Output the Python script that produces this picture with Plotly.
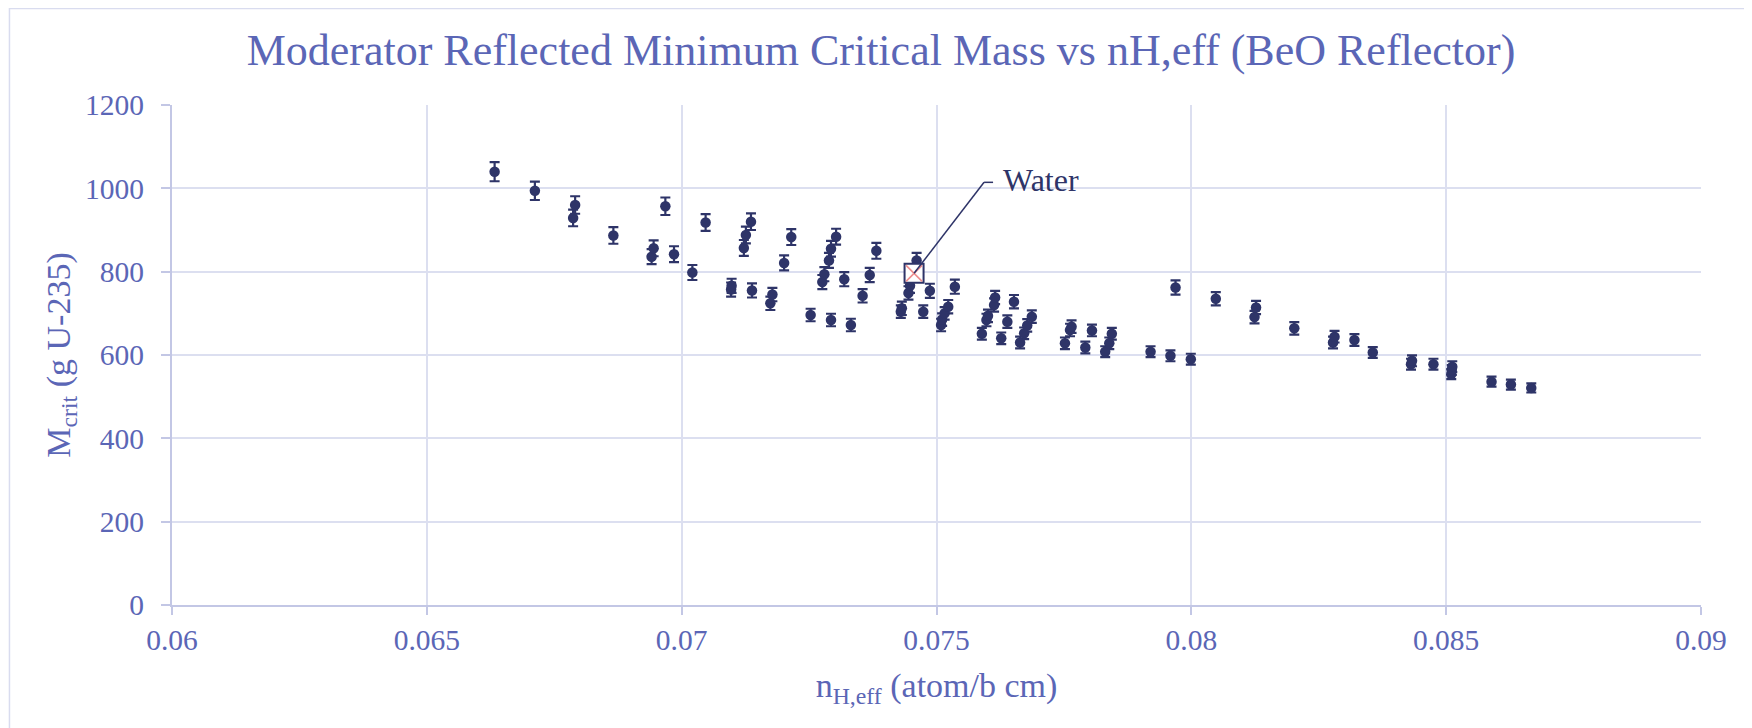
import plotly.graph_objects as go

# ---------------- data ----------------
n_h = [0.06633, 0.06712, 0.06791, 0.06787, 0.06866, 0.06941, 0.06945, 0.06968, 0.06985, 0.07021,
       0.07047, 0.07097, 0.07098, 0.07122, 0.07126, 0.07136, 0.07138, 0.07174, 0.07178, 0.07201,
       0.07215, 0.07253, 0.07276, 0.07280, 0.07289, 0.07293, 0.07293, 0.07303, 0.07319, 0.07332,
       0.07355, 0.07369, 0.07382, 0.07430, 0.07432, 0.07445, 0.07448, 0.07461, 0.07474, 0.07487,
       0.07509, 0.07511, 0.07516, 0.07523, 0.07536, 0.07589, 0.07598, 0.07601, 0.07613, 0.07615,
       0.07627, 0.07639, 0.07652, 0.07664, 0.07672, 0.07678, 0.07687, 0.07752, 0.07762, 0.07765,
       0.07792, 0.07805, 0.07831, 0.07839, 0.07844, 0.07920, 0.07959, 0.07969, 0.07999, 0.08048,
       0.08124, 0.08127, 0.08202, 0.08278, 0.08281, 0.08320, 0.08356, 0.08431, 0.08433, 0.08475,
       0.08510, 0.08511, 0.08512, 0.08589, 0.08627, 0.08667]
m_crit = [1040, 994, 960, 929, 887, 836, 856, 957, 842, 798,
          918, 757, 766, 857, 888, 920, 755, 724, 745, 821,
          883, 696, 775, 794, 827, 684, 855, 884, 782, 672,
          742, 792, 850, 704, 712, 749, 766, 827, 704, 754,
          672, 685, 700, 716, 764, 651, 684, 694, 720, 738,
          640, 680, 728, 630, 652, 671, 692, 628, 660, 668,
          618, 659, 608, 628, 651, 608, 598, 762, 590, 735,
          691, 714, 664, 630, 644, 636, 606, 578, 586, 578,
          554, 564, 572, 536, 529, 521]
m_err = [23, 22, 21, 20, 20, 18, 19, 21, 19, 18,
         20, 17, 17, 19, 20, 20, 17, 16, 16, 18,
         19, 15, 17, 17, 18, 15, 19, 19, 17, 15,
         16, 17, 19, 15, 16, 16, 17, 18, 15, 17,
         15, 15, 15, 16, 17, 14, 15, 15, 16, 16,
         14, 15, 16, 14, 14, 15, 15, 14, 15, 15,
         14, 14, 13, 14, 14, 13, 13, 17, 13, 16,
         15, 16, 15, 14, 14, 14, 13, 13, 13, 13,
         12, 12, 13, 12, 12, 11]

water_x = [0.07456]
water_y = [796]
water_label = "Water"

x_tickvals = [0.06, 0.065, 0.07, 0.075, 0.08, 0.085, 0.09]
x_ticktext = ["0.06", "0.065", "0.07", "0.075", "0.08", "0.085", "0.09"]
y_tickvals = [0, 200, 400, 600, 800, 1000, 1200]
y_ticktext = ["0", "200", "400", "600", "800", "1000", "1200"]

title_text = "Moderator Reflected Minimum Critical Mass vs nH,eff (BeO Reflector)"
x_title = "n<sub>H,eff</sub> (atom/b cm)"
y_title = "M<sub>crit</sub> (g U-235)"

# ---------------- style ----------------
FONT = "Liberation Serif"
TXT = "#5B66B6"
NAVY = "#2E3468"
GRID = "#DCDFF0"
AXIS = "#C3C7E5"
PINK = "#EE8E8E"

fig = go.Figure()
fig.add_trace(go.Scatter(
    x=n_h, y=m_crit, mode="markers",
    marker=dict(symbol="circle", size=10.5, color=NAVY),
    error_y=dict(type="data", array=m_err, visible=True, color=NAVY,
                 thickness=2.2, width=5),
    showlegend=False, hoverinfo="x+y"))

fig.add_trace(go.Scatter(
    x=water_x, y=water_y, mode="markers",
    marker=dict(symbol="square", size=19, color="white",
                line=dict(color=NAVY, width=2)),
    showlegend=False))
fig.add_trace(go.Scatter(
    x=water_x, y=water_y, mode="markers",
    marker=dict(symbol="x-thin-open", size=16, color=PINK,
                line=dict(color=PINK, width=1.6)),
    showlegend=False))

# leader line for the "Water" label (pixel offsets anchored at the data point)
fig.add_shape(type="line", xref="x", yref="y",
              xsizemode="pixel", ysizemode="pixel",
              xanchor=water_x[0], yanchor=water_y[0],
              x0=0, y0=0, x1=70, y1=91,
              line=dict(color=NAVY, width=1.5), layer="above")
fig.add_shape(type="line", xref="x", yref="y",
              xsizemode="pixel", ysizemode="pixel",
              xanchor=water_x[0], yanchor=water_y[0],
              x0=70, y0=91, x1=79, y1=91,
              line=dict(color=NAVY, width=1.5), layer="above")
fig.add_annotation(x=water_x[0], y=water_y[0], xref="x", yref="y",
                   text=water_label, showarrow=False,
                   xanchor="left", yanchor="middle",
                   xshift=87, yshift=93,
                   font=dict(family=FONT, size=32, color=NAVY))

# chart-area border (top and left edges visible)
fig.add_shape(type="rect", xref="paper", yref="paper",
              x0=-0.1063, y0=-0.30, x1=1.10, y1=1.1931,
              line=dict(color="#D9DCEF", width=1.5), fillcolor="rgba(0,0,0,0)",
              layer="below")

fig.update_layout(
    width=1752, height=728,
    paper_bgcolor="white", plot_bgcolor="white",
    margin=dict(l=163.5, r=58.5, t=97.3, b=130.8, autoexpand=False),
    title=dict(text=title_text, x=873 / 1752, xref="container", xanchor="center",
               y=1 - 42 / 728, yref="container", yanchor="middle",
               font=dict(family=FONT, size=44, color=TXT)),
    font=dict(family=FONT, color=TXT),
    xaxis=dict(range=[0.06, 0.09], tickvals=x_tickvals, ticktext=x_ticktext,
               showgrid=True, gridcolor=GRID, gridwidth=1.5,
               showline=True, linecolor=AXIS, linewidth=2,
               ticks="outside", ticklen=8, tickwidth=1.5, tickcolor=AXIS,
               tickfont=dict(family=FONT, size=29.5, color=TXT),
               zeroline=False, automargin=False,
               title=dict(text=x_title, standoff=18,
                          font=dict(family=FONT, size=34, color=TXT))),
    yaxis=dict(range=[0, 1200], tickvals=y_tickvals, ticktext=y_ticktext,
               showgrid=True, gridcolor=GRID, gridwidth=1.5,
               showline=True, linecolor=AXIS, linewidth=2,
               ticks="outside", ticklen=9, tickwidth=1.5, tickcolor=AXIS,
               tickfont=dict(family=FONT, size=29.5, color=TXT),
               ticklabelstandoff=11,
               zeroline=False, automargin=False,
               title=dict(text=y_title, standoff=4,
                          font=dict(family=FONT, size=34, color=TXT))),
)

fig.write_html("out.html")
